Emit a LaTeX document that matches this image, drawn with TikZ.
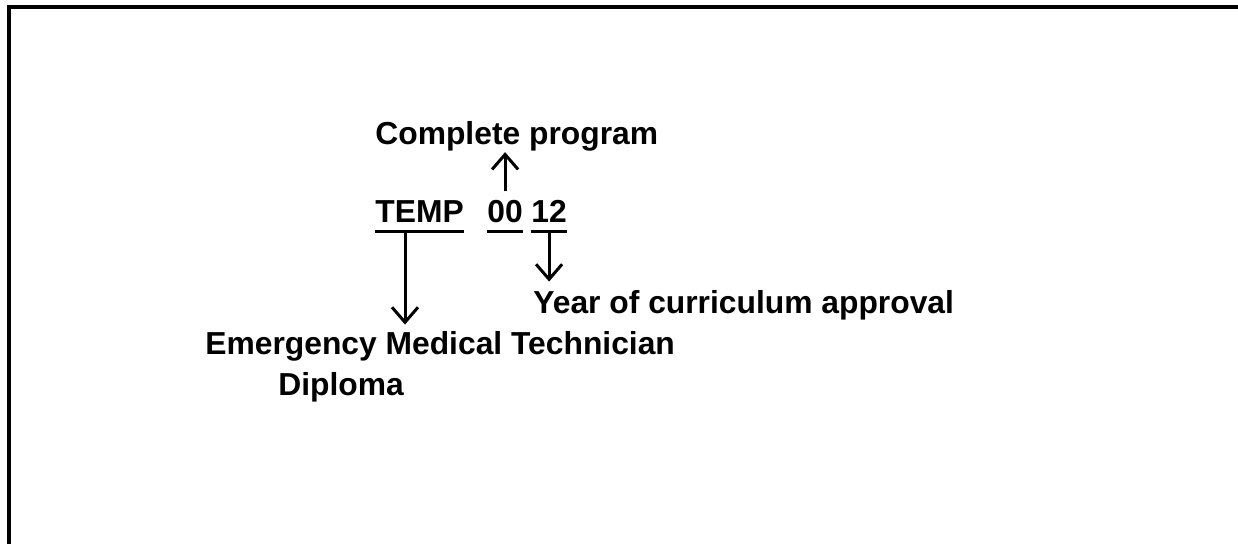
\documentclass[tikz,border=0pt]{standalone}
\usepackage{fontspec}
\setmainfont{Liberation Sans}
\usetikzlibrary{positioning,arrows.meta}
\tikzset{
	caption/.style = {
		anchor=base west, inner sep=0pt, font=\fontsize{15.9}{19}\selectfont\bfseries
	}
}
\tikzset{
	pointer/.style = {
		line width=1.5pt, -{Straight Barb[length=7.5pt,width=13pt,line width=1.5pt]}
	}
}
\tikzset{
	underbar/.style = {
		line width=1.5pt
	}
}

\begin{document}
\begin{tikzpicture}[x=0.5pt,y=-0.5pt]
	\useasboundingbox (0,0) rectangle (1238,544);
	\clip (0,0) rectangle (1238,544);
	\draw[line width=2pt] (8.5,7) rectangle (1260,570);
	\node[caption](Program) at (375,145){Complete program};
	\node[caption](Temp) at (375,223){TEMP};
	\node[caption](Zero) at (487,223){00};
	\node[caption](Year) at (531,223){12};
	\node[caption](Approval) at (533,314){Year of curriculum approval};
	\node[caption](Technician) at (205,355){Emergency Medical Technician};
	\node[caption](Diploma) at ([xshift=36.5pt,yshift=-20.5pt]Technician.base west){Diploma};
	% underlines of the code parts
	\foreach \part in {Temp,Zero,Year}
		\draw[underbar] ([yshift=-4.5pt]\part.base west) -- ([yshift=-4.5pt]\part.base east);
	\coordinate (TempFoot) at ([xshift=15pt,yshift=-4.5pt]Temp.base west);
	\coordinate (YearFoot) at ([yshift=-4.5pt]Year.base);
	\draw[pointer] ([yshift=4.5pt]Zero.north) -- (Zero.north |- Program.south);
	\draw[pointer] (TempFoot) -- ([yshift=3.5pt]TempFoot |- Technician.north);
	\draw[pointer] (YearFoot) -- ([yshift=4.5pt]YearFoot |- Approval.north);
\end{tikzpicture}
\end{document}
